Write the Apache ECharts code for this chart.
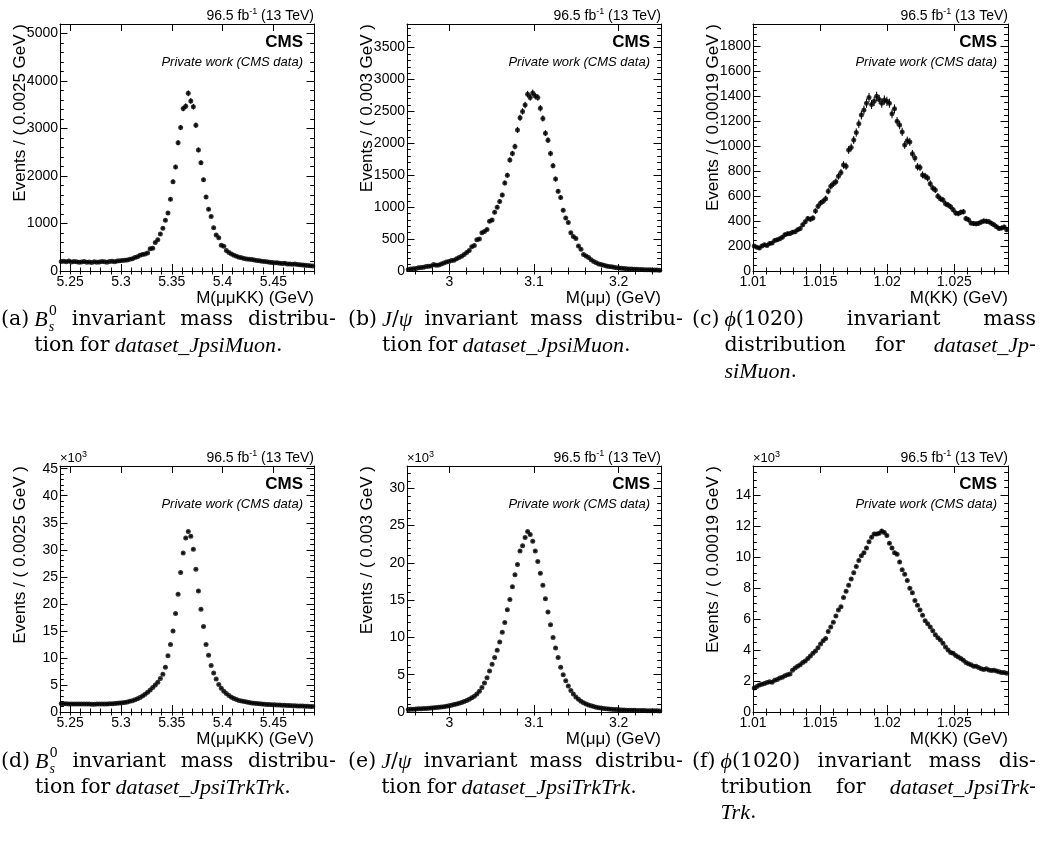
<!DOCTYPE html>
<html>
<head>
<meta charset="utf-8">
<script src="https://cdn.jsdelivr.net/npm/echarts@6/dist/echarts.min.js"></script>
<style>
html,body{margin:0;padding:0;background:#fff;}
#chart{width:1040px;height:848px;}
</style>
</head>
<body>
<div id="chart"></div>
<script>
// ---------------- DATA ----------------
const binStart = [5.24, 2.95, 1.01, 5.24, 2.95, 1.01];
const binWidth = [0.0025, 0.003, 0.00019, 0.0025, 0.003, 0.00019];
const xMax = [5.49, 3.25, 1.029, 5.49, 3.25, 1.029];

// (a) Bs0, dataset_JpsiMuon  (events / bin)
const bsMuon = [
 200,205,195,210,190,200,195,185,190,200,
 185,190,180,195,185,190,200,195,185,200,
 205,195,210,215,220,225,230,245,260,285,
 300,330,350,360,380,470,480,600,660,780,
 900,1070,1220,1510,1880,2190,2700,3020,3420,3470,
 3740,3580,3460,3070,2550,2280,1920,1560,1300,1150,
 910,760,700,540,520,430,390,360,330,310,
 290,280,265,255,245,240,230,220,215,205,
 200,195,185,180,175,175,165,160,165,150,
 145,140,150,135,130,125,120,115,110,105
];
// (b) J/psi, dataset_JpsiMuon
const jpsiMuon = [
 25,30,35,40,50,55,60,70,75,80,
 100,90,95,110,125,140,150,165,170,190,
 210,230,260,290,320,380,400,490,500,600,
 620,650,780,800,920,1000,1090,1190,1380,1500,
 1740,1840,1950,2210,2400,2500,2600,2770,2720,2790,
 2740,2720,2550,2390,2160,2050,1840,1650,1440,1250,
 1150,950,830,760,600,540,510,390,340,260,
 235,210,175,150,130,110,100,90,80,72,
 65,58,52,48,42,38,36,33,30,28,
 26,25,22,20,20,18,16,15,14,12
];
// (c) phi(1020), dataset_JpsiMuon
const phiMuon = [
 200,190,185,200,210,205,220,225,245,250,
 258,270,290,298,300,310,315,330,340,370,
 395,420,415,425,480,520,545,560,580,640,
 680,700,715,760,790,850,840,970,990,1050,
 1110,1180,1250,1290,1345,1390,1335,1360,1400,1375,
 1345,1370,1360,1345,1260,1300,1200,1170,1115,1010,
 1045,1035,940,905,835,830,770,760,745,700,
 665,650,600,580,570,540,530,515,490,465,
 460,470,475,420,410,385,380,378,382,392,
 400,398,395,382,370,355,340,345,352,330
];
// (d) Bs0, dataset_JpsiTrkTrk  (x10^3 events / bin)
const bsTrk = [
 1.55,1.53,1.52,1.50,1.50,1.49,1.48,1.48,1.47,1.47,
 1.46,1.46,1.45,1.45,1.46,1.46,1.47,1.48,1.50,1.52,
 1.54,1.57,1.60,1.65,1.70,1.78,1.87,1.97,2.10,2.27,
 2.46,2.70,2.98,3.30,3.65,4.05,4.55,5.0,5.5,6.2,
 7.0,8.3,10.4,12.5,15.0,18.2,21.8,25.8,29.4,32.2,
 33.4,32.5,30.1,26.4,22.4,19.0,15.8,12.5,10.5,8.6,
 7.2,6.1,5.1,4.4,3.85,3.4,3.05,2.75,2.5,2.3,
 2.15,2.02,1.92,1.83,1.75,1.68,1.62,1.57,1.52,1.48,
 1.44,1.41,1.38,1.35,1.32,1.30,1.28,1.25,1.23,1.21,
 1.19,1.17,1.15,1.13,1.11,1.09,1.07,1.05,1.03,1.01
];
// (e) J/psi, dataset_JpsiTrkTrk (x10^3)
const jpsiTrk = [
 0.35,0.37,0.38,0.40,0.42,0.44,0.46,0.48,0.50,0.53,
 0.56,0.60,0.64,0.68,0.72,0.78,0.84,0.92,1.00,1.08,
 1.18,1.28,1.40,1.55,1.70,1.90,2.10,2.40,2.80,3.30,
 3.90,4.60,5.50,6.40,7.30,8.30,9.40,10.7,12.0,13.7,
 15.1,16.8,18.4,19.8,21.6,22.3,23.4,24.2,23.8,22.9,
 21.6,20.2,18.6,17.0,15.2,13.4,11.7,10.0,8.6,7.3,
 6.0,5.0,4.2,3.5,2.9,2.4,2.0,1.7,1.45,1.25,
 1.08,0.95,0.83,0.73,0.65,0.58,0.52,0.47,0.43,0.40,
 0.37,0.34,0.32,0.30,0.28,0.27,0.25,0.24,0.23,0.22,
 0.21,0.20,0.19,0.19,0.18,0.17,0.17,0.16,0.16,0.15
];
// (f) phi(1020), dataset_JpsiTrkTrk (x10^3)
const phiTrk = [
 1.55,1.65,1.75,1.80,1.85,1.90,1.95,1.93,2.05,2.10,
 2.20,2.25,2.35,2.40,2.45,2.70,2.85,2.95,3.05,3.20,
 3.30,3.45,3.62,3.80,3.95,4.15,4.40,4.60,4.75,5.20,
 5.50,5.80,6.20,6.60,6.80,7.40,7.80,8.20,8.60,9.00,
 9.40,9.80,10.1,10.3,10.6,11.0,11.3,11.5,11.5,11.55,
 11.7,11.6,11.4,10.9,10.6,10.3,10.2,9.7,9.2,8.9,
 8.5,8.0,7.7,7.2,6.9,6.6,6.25,5.9,5.7,5.5,
 5.25,5.0,4.8,4.65,4.45,4.2,4.0,3.85,3.8,3.65,
 3.55,3.45,3.35,3.2,3.12,3.05,2.95,2.95,2.88,2.8,
 2.75,2.8,2.72,2.68,2.7,2.65,2.6,2.55,2.55,2.5
];
const histData = [bsMuon, jpsiMuon, phiMuon, bsTrk, jpsiTrk, phiTrk];
const unitScale = [1, 1, 1, 1000, 1000, 1000];

// Tick labels
const xTicksBs = [5.25, 5.3, 5.35, 5.4, 5.45];
const xTicksJpsi = [3, 3.1, 3.2];
const xTicksPhi = [1.01, 1.015, 1.02, 1.025];
const xTicks = [xTicksBs, xTicksJpsi, xTicksPhi, xTicksBs, xTicksJpsi, xTicksPhi];
const xMinorStep = [0.01, 0.02, 0.001, 0.01, 0.02, 0.001];

const yTicksA = [0, 1000, 2000, 3000, 4000, 5000];
const yTicksB = [0, 500, 1000, 1500, 2000, 2500, 3000, 3500];
const yTicksC = [0, 200, 400, 600, 800, 1000, 1200, 1400, 1600, 1800];
const yTicksD = [0, 5, 10, 15, 20, 25, 30, 35, 40, 45];
const yTicksE = [0, 5, 10, 15, 20, 25, 30];
const yTicksF = [0, 2, 4, 6, 8, 10, 12, 14];
const yTicks = [yTicksA, yTicksB, yTicksC, yTicksD, yTicksE, yTicksF];
const yMinorStep = [200, 100, 50, 1, 1, 0.5];
const yMax = [5200, 3870, 1980, 45.5, 33, 15.9];

const yTitles = ['Events / ( 0.0025 GeV )', 'Events / ( 0.003 GeV )', 'Events / ( 0.00019 GeV )',
                 'Events / ( 0.0025 GeV )', 'Events / ( 0.003 GeV )', 'Events / ( 0.00019 GeV )'];
const xTitles = ['M(μμKK) (GeV)', 'M(μμ) (GeV)', 'M(KK) (GeV)', 'M(μμKK) (GeV)', 'M(μμ) (GeV)', 'M(KK) (GeV)'];
const lumiText = ['96.5 fb', '-1', ' (13 TeV)'];
const cmsText = 'CMS';
const privText = 'Private work (CMS data)';

const captions = [
  ['(a)', '*B*^{0}_{s} invariant mass distribu-', 'tion for *dataset_JpsiMuon*.'],
  ['(b)', '*J*/*ψ* invariant mass distribu-', 'tion for *dataset_JpsiMuon*.'],
  ['(c)', '*ϕ*(1020) invariant mass', 'distribution for *dataset_Jp*-', '*siMuon*.'],
  ['(d)', '*B*^{0}_{s} invariant mass distribu-', 'tion for *dataset_JpsiTrkTrk*.'],
  ['(e)', '*J*/*ψ* invariant mass distribu-', 'tion for *dataset_JpsiTrkTrk*.'],
  ['(f)', '*ϕ*(1020) invariant mass dis-', 'tribution for *dataset_JpsiTrk*-', '*Trk*.']
];

// ---------------- LAYOUT ----------------
const frames = [
  [60, 24, 254, 247], [407, 24, 254, 247], [753, 24, 255, 247],
  [60, 466, 254, 246], [407, 466, 254, 246], [753, 466, 255, 246]
];
const capCols = [[1, 336], [348, 683], [692, 1036], [1, 336], [348, 683], [692, 1036]];
const capLineY = [[320, 346, 372], [320, 346, 372], [320, 346, 372], [762, 788, 813], [762, 788, 813], [762, 788, 813]];
const SANS = '"Liberation Sans", Arial, Helvetica, sans-serif';
const SERIF_R = '"DejaVu Serif", "Liberation Serif", serif';
const SERIF_I = '"Liberation Serif", "DejaVu Serif", serif';
const CAP_FS_R = 20.5;
const CAP_FS_I = 22;
const SS_FS = 14;

function stepValues(a, b, s) {
  const out = [];
  const k0 = Math.ceil(a / s - 1e-7);
  for (let k = k0; k * s <= b + s * 1e-7; k++) out.push(+(k * s).toFixed(8));
  return out;
}

const grids = [], xAxes = [], yAxes = [], series = [], graphics = [];

function errRender(params, api) {
  const x = api.value(0), y = api.value(1), e = api.value(2), hw = api.value(3);
  const a = api.coord([x - hw, y]), b = api.coord([x + hw, y]);
  const c = api.coord([x, y - e]), d = api.coord([x, y + e]);
  return {
    type: 'group',
    children: [
      {type: 'line', shape: {x1: a[0], y1: a[1], x2: b[0], y2: b[1]}, style: {stroke: '#000', lineWidth: 1}},
      {type: 'line', shape: {x1: c[0], y1: c[1], x2: d[0], y2: d[1]}, style: {stroke: '#000', lineWidth: 1}}
    ]
  };
}

for (let p = 0; p < 6; p++) {
  const [L, T, W, H] = frames[p];
  grids.push({left: L, top: T, width: W, height: H, show: false, containLabel: false, outerBoundsMode: 'none'});
  const x0 = binStart[p], x1 = xMax[p];
  const xMin = stepValues(x0, x1, xMinorStep[p]);
  const yMin = stepValues(0, yMax[p], yMinorStep[p]);
  const line = {show: true, onZero: false, lineStyle: {color: '#000', width: 1}};
  const baseX = {type: 'value', gridIndex: p, min: x0, max: x1, splitLine: {show: false}};
  const baseY = {type: 'value', gridIndex: p, min: 0, max: yMax[p], splitLine: {show: false}};
  xAxes.push(Object.assign({}, baseX, {position: 'bottom', axisLine: line,
    axisTick: {show: true, inside: true, length: 7, customValues: xTicks[p], lineStyle: {color: '#000'}},
    axisLabel: {show: true, customValues: xTicks[p], formatter: v => String(v), fontSize: 14, fontFamily: SANS, color: '#000', margin: 4}}));
  xAxes.push(Object.assign({}, baseX, {position: 'bottom', axisLine: {show: false},
    axisTick: {show: true, inside: true, length: 3.5, customValues: xMin, lineStyle: {color: '#000'}},
    axisLabel: {show: false}}));
  xAxes.push(Object.assign({}, baseX, {position: 'top', axisLine: line,
    axisTick: {show: true, inside: true, length: 7, customValues: xTicks[p], lineStyle: {color: '#000'}},
    axisLabel: {show: false}}));
  xAxes.push(Object.assign({}, baseX, {position: 'top', axisLine: {show: false},
    axisTick: {show: true, inside: true, length: 3.5, customValues: xMin, lineStyle: {color: '#000'}},
    axisLabel: {show: false}}));
  yAxes.push(Object.assign({}, baseY, {position: 'left', axisLine: line,
    axisTick: {show: true, inside: true, length: 7.5, customValues: yTicks[p], lineStyle: {color: '#000'}},
    axisLabel: {show: true, customValues: yTicks[p], formatter: v => String(v), fontSize: 14, fontFamily: SANS, color: '#000', margin: 2}}));
  yAxes.push(Object.assign({}, baseY, {position: 'left', axisLine: {show: false},
    axisTick: {show: true, inside: true, length: 3.8, customValues: yMin, lineStyle: {color: '#000'}},
    axisLabel: {show: false}}));
  yAxes.push(Object.assign({}, baseY, {position: 'right', axisLine: line,
    axisTick: {show: true, inside: true, length: 7.5, customValues: yTicks[p], lineStyle: {color: '#000'}},
    axisLabel: {show: false}}));
  yAxes.push(Object.assign({}, baseY, {position: 'right', axisLine: {show: false},
    axisTick: {show: true, inside: true, length: 3.8, customValues: yMin, lineStyle: {color: '#000'}},
    axisLabel: {show: false}}));

  const vals = histData[p], bw = binWidth[p], sc = unitScale[p];
  const pts = vals.map((v, i) => [+(x0 + (i + 0.5) * bw).toFixed(7), v]);
  const errs = vals.map((v, i) => [pts[i][0], v, Math.sqrt(v * sc) / sc, bw / 2]);
  series.push({type: 'custom', xAxisIndex: 4 * p, yAxisIndex: 4 * p, data: errs,
    encode: {x: 0, y: 1}, renderItem: errRender, silent: true, z: 2});
  series.push({type: 'scatter', xAxisIndex: 4 * p, yAxisIndex: 4 * p, data: pts,
    symbol: 'circle', symbolSize: 5, itemStyle: {color: '#000'}, silent: true, z: 3});

  const R = L + W, B = T + H;
  graphics.push({type: 'text', x: R, y: T - 1, style: {
    text: '{m|' + lumiText[0] + '}{s|' + lumiText[1] + '}{m|' + lumiText[2] + '}',
    rich: {m: {fontSize: 14, fontFamily: SANS, fill: '#000', lineHeight: 16, verticalAlign: 'bottom'},
           s: {fontSize: 9, fontFamily: SANS, fill: '#000', lineHeight: 8, verticalAlign: 'top'}},
    align: 'right', verticalAlign: 'bottom', textAlign: 'right', textVerticalAlign: 'bottom'}});
  graphics.push({type: 'text', x: R - 11, y: T + 18, style: {text: cmsText, fontSize: 17, fontWeight: 'bold', fontFamily: SANS, fill: '#000',
    align: 'right', verticalAlign: 'middle', textAlign: 'right', textVerticalAlign: 'middle'}});
  graphics.push({type: 'text', x: R - 11, y: T + 38, style: {text: privText, fontSize: 13, fontStyle: 'italic', fontFamily: SANS, fill: '#000',
    align: 'right', verticalAlign: 'middle', textAlign: 'right', textVerticalAlign: 'middle'}});
  if (sc === 1000) {
    graphics.push({type: 'text', x: L, y: T - 1, style: {
      text: '{m|×10}{s|3}',
      rich: {m: {fontSize: 13, fontFamily: SANS, fill: '#000', lineHeight: 15, verticalAlign: 'bottom'},
             s: {fontSize: 9, fontFamily: SANS, fill: '#000', lineHeight: 8, verticalAlign: 'top'}},
      align: 'left', verticalAlign: 'bottom', textAlign: 'left', textVerticalAlign: 'bottom'}});
  }
  graphics.push({type: 'text', x: L - 40, y: T, rotation: Math.PI / 2, style: {text: yTitles[p], fontSize: 17, fontFamily: SANS, fill: '#000',
    align: 'right', verticalAlign: 'middle', textAlign: 'right', textVerticalAlign: 'middle'}});
  graphics.push({type: 'text', x: R, y: B + 27, style: {text: xTitles[p], fontSize: 17, fontFamily: SANS, fill: '#000',
    align: 'right', verticalAlign: 'middle', textAlign: 'right', textVerticalAlign: 'middle'}});
}

// ---------------- CAPTIONS (justified serif text) ----------------
const mctx = document.createElement('canvas').getContext('2d');
function fontStr(it, size) { return it ? ('italic ' + size + 'px ' + SERIF_I) : (size + 'px ' + SERIF_R); }
function measure(t, it, size) { mctx.font = fontStr(it, size); return mctx.measureText(t).width; }
function segSize(it) { return it ? CAP_FS_I : CAP_FS_R; }
function parseWord(w) {
  const segs = []; let it = false, buf = '', i = 0;
  while (i < w.length) {
    const ch = w[i];
    if (ch === '*') { if (buf) segs.push({t: buf, it}); buf = ''; it = !it; i++; continue; }
    if (ch === '^') {
      if (buf) segs.push({t: buf, it}); buf = '';
      const m = w.slice(i).match(/^\^\{([^}]*)\}_\{([^}]*)\}/);
      segs.push({sup: m[1], sub: m[2]}); i += m[0].length; continue;
    }
    buf += ch; i++;
  }
  if (buf) segs.push({t: buf, it});
  return segs;
}
function ssWidth(s) { return Math.max(measure(s.sup, false, SS_FS - 1), measure(s.sub, true, SS_FS)) + 1; }
function wordWidth(segs) {
  let w = 0;
  segs.forEach(s => { w += (s.sup !== undefined) ? ssWidth(s) : measure(s.t, s.it, segSize(s.it)); });
  return w;
}
function textEl(t, x, y, font) {
  graphics.push({type: 'text', x: x, y: y, style: {text: t, font: font, fill: '#000',
    align: 'left', verticalAlign: 'middle', textAlign: 'left', textVerticalAlign: 'middle'}});
}
function drawWord(segs, x, y) {
  segs.forEach(s => {
    if (s.sup !== undefined) {
      textEl(s.sup, x + 1, y - 8, fontStr(false, SS_FS - 1));
      textEl(s.sub, x + 1, y + 7, fontStr(true, SS_FS));
      x += ssWidth(s);
    } else {
      textEl(s.t, x, y + (s.it ? 0.5 : 0), fontStr(s.it, segSize(s.it)));
      x += measure(s.t, s.it, segSize(s.it));
    }
  });
}
captions.forEach((cap, p) => {
  const [cx0, cx1] = capCols[p];
  textEl(cap[0], cx0, capLineY[p][0], fontStr(false, CAP_FS_R));
  const indent = measure(cap[0], false, CAP_FS_R) + 5;
  const lines = cap.slice(1);
  lines.forEach((ln, li) => {
    const words = ln.split(' ').map(parseWord);
    const widths = words.map(wordWidth);
    const total = widths.reduce((a, b) => a + b, 0);
    const last = li === lines.length - 1;
    const startX = cx0 + indent;
    const natural = measure(' ', false, CAP_FS_R) * 0.8;
    let gap = (!last && words.length > 1) ? (cx1 - startX - total) / (words.length - 1) : natural;
    let x = startX;
    words.forEach((w, wi) => { drawWord(w, x, capLineY[p][li]); x += widths[wi] + gap; });
  });
});

const chart = echarts.init(document.getElementById('chart'), null, {renderer: 'canvas'});
chart.setOption({
  animation: false,
  backgroundColor: '#fff',
  grid: grids,
  xAxis: xAxes,
  yAxis: yAxes,
  series: series,
  graphic: graphics
});
</script>
</body>
</html>
